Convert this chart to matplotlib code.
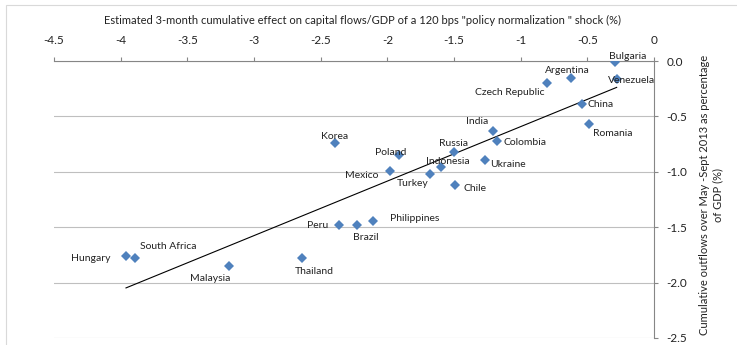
import numpy as np
import matplotlib
matplotlib.use("Agg")
import matplotlib.pyplot as plt
from matplotlib.patches import Rectangle

plt.rcParams['font.family'] = ['Lato', 'DejaVu Sans']

countries = ["Bulgaria", "Venezuela", "Argentina", "Czech Republic", "China",
             "Romania", "India", "Colombia", "Russia", "Ukraine", "Indonesia",
             "Turkey", "Chile", "Poland", "Mexico", "Korea", "Peru", "Brazil",
             "Philippines", "Thailand", "Hungary", "South Africa", "Malaysia"]
shock_effect = [-0.29, -0.28, -0.62, -0.80, -0.54, -0.49, -1.21, -1.18, -1.50,
                -1.27, -1.60, -1.68, -1.49, -1.91, -1.98, -2.39, -2.36, -2.23,
                -2.11, -2.64, -3.96, -3.89, -3.19]
outflows = [-0.01, -0.16, -0.15, -0.20, -0.39, -0.57, -0.63, -0.72, -0.82,
            -0.89, -0.96, -1.02, -1.12, -0.85, -0.99, -0.74, -1.48, -1.48,
            -1.44, -1.78, -1.76, -1.78, -1.85]

# label placement: (dx, dy) in pixels, horizontal alignment
label_pos = {
    "Bulgaria": (-6, 6, "left"), "Venezuela": (-9, -2, "left"),
    "Argentina": (-4, 7, "center"), "Czech Republic": (-3, -9, "right"),
    "China": (5, 0, "left"), "Romania": (4, -9, "left"),
    "India": (-16, 9, "center"), "Colombia": (7, -2, "left"),
    "Russia": (0, 8, "center"), "Ukraine": (5, -5, "left"),
    "Indonesia": (7, 6, "center"), "Turkey": (-17, -9, "center"),
    "Chile": (8, -3, "left"), "Poland": (-9, 3, "center"),
    "Mexico": (-12, -5, "right"), "Korea": (-1, 6, "center"),
    "Peru": (-11, -1, "right"), "Brazil": (9, -13, "center"),
    "Philippines": (17, 2, "left"), "Thailand": (12, -13, "center"),
    "Hungary": (-16, -2, "right"), "South Africa": (5, 12, "left"),
    "Malaysia": (-18, -13, "center"),
}

fig = plt.figure(figsize=(7.37, 3.45), dpi=100)
ax = fig.add_axes([54 / 737, 1 - 338 / 345, 600 / 737, 277 / 345])

ax.set_xlim(-4.5, 0)
ax.set_ylim(-2.5, 0)
ax.set_xticks(np.arange(-4.5, 0.01, 0.5))
ax.set_yticks(np.arange(-2.5, 0.01, 0.5))
ax.set_xticklabels([f"{v:g}" for v in np.arange(-4.5, 0.01, 0.5)])
ax.set_yticklabels([f"{v:.1f}" for v in np.arange(-2.5, 0.01, 0.5)])

ax.xaxis.tick_top()
ax.yaxis.tick_right()
ax.tick_params(axis='x', direction='out', length=3, pad=8, labelsize=8.5,
               color='#868686', labelcolor='#222222')
ax.tick_params(axis='y', direction='out', length=3, pad=6, labelsize=8.5,
               color='#868686', labelcolor='#222222')
for side in ['left', 'bottom']:
    ax.spines[side].set_visible(False)
for side in ['top', 'right']:
    ax.spines[side].set_color('#868686')
    ax.spines[side].set_linewidth(0.8)

ax.grid(axis='y', color='#BFBFBF', linewidth=0.8)
ax.set_axisbelow(True)

# linear trend
coef = np.polyfit(shock_effect, outflows, 1)
xs = np.array([min(shock_effect), max(shock_effect)])
ax.plot(xs, np.polyval(coef, xs), color='black', linewidth=0.8, zorder=2)

ax.plot(shock_effect, outflows, linestyle='none', marker='D', markersize=5.5,
        color='#4F81BD', markeredgewidth=0, zorder=3)

for name, x, y in zip(countries, shock_effect, outflows):
    dx, dy, ha = label_pos[name]
    ax.annotate(name, (x, y), xytext=(dx, dy), textcoords='offset pixels',
                ha=ha, va='center', fontsize=7.5, color='#222222', zorder=4)

fig.text(363 / 737, 1 - 20 / 345,
         'Estimated 3-month cumulative effect on capital flows/GDP of a 120 bps '
         '"policy normalization " shock (%)',
         ha='center', va='center', fontsize=8, color='#222222')
fig.text(711 / 737, 1 - 195 / 345,
         'Cumulative outflows over May -Sept 2013 as percentage\nof GDP (%)',
         rotation=90, ha='center', va='center', multialignment='center',
         fontsize=8, color='#222222')

fig.add_artist(Rectangle((6 / 737, -0.1), 2, 1.1 - 5 / 345,
                         transform=fig.transFigure, fill=False,
                         edgecolor='#D9D9D9', linewidth=0.8))

fig.savefig("out.png", dpi=100)
